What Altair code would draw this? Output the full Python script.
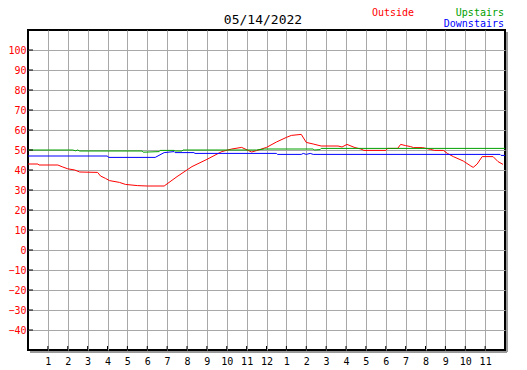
import json
import altair as alt
import pandas as pd

# ---------------- data ----------------
out_h = [0, 0.5, 0.55, 1.5, 1.75, 2.0, 2.35, 2.6, 3.5, 3.65, 3.9, 4.1, 4.6, 4.9, 5.5, 6.0, 6.85,
         7.5, 8.25, 9.0, 9.75, 10.25, 10.75, 11.25, 11.5, 12.0, 12.5, 13.0, 13.25, 13.75, 14.0,
         14.35, 14.75, 15.6, 15.8, 16.05, 16.45, 16.75, 16.9, 18.0, 18.1, 18.6, 18.75, 19.0,
         19.25, 19.4, 19.85, 20.25, 20.45, 20.9, 21.1, 21.4, 21.9, 22.25, 22.4, 22.6, 22.85,
         23.4, 23.65, 23.9]
out_v = [43, 43, 42.5, 42.5, 41.5, 40.6, 40, 39, 38.8, 37, 35.8, 34.7, 33.8, 32.8, 32.2, 32, 32,
         36.7, 41.7, 45.3, 49.2, 50.5, 51.3, 49, 49.7, 51.3, 54, 56.3, 57.3, 57.8, 53.8,
         53, 52, 52, 51.5, 52.8, 51.2, 50.5, 49.8, 49.8, 50.8, 50.8, 52.8, 52.2,
         51.7, 51.2, 51.2, 50.3, 49.8, 49.8, 48.3, 46.7, 44.5, 42.2, 41.3, 43, 46.7,
         46.7, 44.2, 42.8]

up_h = [0, 2.25, 2.4, 2.5, 2.6, 5.75, 5.8, 6.6, 6.65, 7.35, 7.4, 7.75, 7.8, 11.5, 11.9,
        14.35, 14.4, 14.7, 14.75, 24]
up_v = [50, 50, 49.6, 50, 49.5, 49.5, 48.9, 49.2, 49.8, 49.8, 49.5, 49.5, 50, 50, 50.5,
        50.5, 50, 50.2, 50.8, 50.8]

dn_h = [0, 4.0, 4.05, 6.4, 6.85, 7.35, 7.4, 8.35, 8.4, 12.5, 12.55, 13.75, 13.85, 14.0,
        14.2, 14.35, 23.75, 23.8, 24]
dn_v = [47, 47, 46.3, 46.3, 48.7, 49.2, 48.7, 48.7, 48.3, 48.3, 47.8, 47.8, 48.3, 47.8,
        48.3, 47.8, 47.8, 47.3, 47.3]

series_names = ["Outside", "Upstairs", "Downstairs"]
series_colors = ["#ff0000", "#00a000", "#0000ff"]

hour_labels = ["1", "2", "3", "4", "5", "6", "7", "8", "9", "10", "11", "12",
               "1", "2", "3", "4", "5", "6", "7", "8", "9", "10", "11"]
x_ticks = list(range(1, 24))
y_ticks = list(range(-40, 101, 10))
title_text = "05/14/2022"

# ---------------- build ----------------
frames = []
for name, hs, vs in zip(series_names, [out_h, up_h, dn_h], [out_v, up_v, dn_v]):
    frames.append(pd.DataFrame({"hour": hs, "value": vs, "series": name}))
df = pd.concat(frames, ignore_index=True)

W, H = 477, 320
MONO = "DejaVu Sans Mono"

xscale = alt.Scale(domain=[0, 24], nice=False, zero=False)
yscale = alt.Scale(domain=[-50, 110], nice=False, zero=False)
label_expr = f"{json.dumps(hour_labels)}[datum.value-1]"

x_axis = alt.Axis(values=x_ticks, labelExpr=label_expr, ticks=False, tickSize=0,
                  domain=False, grid=True, gridColor="#a8a8a8", gridWidth=1,
                  labelFont=MONO, labelFontSize=10, labelColor="black",
                  labelPadding=6, title=None, labelAngle=0)
y_axis = alt.Axis(values=y_ticks, ticks=False, tickSize=0, domain=False, grid=True,
                  gridColor="#a8a8a8", gridWidth=1, labelFont=MONO, labelFontSize=10,
                  labelColor="#ff0000", labelPadding=2, title=None)

lines = alt.Chart(df).mark_line(strokeWidth=1).encode(
    x=alt.X("hour:Q", scale=xscale, axis=x_axis),
    y=alt.Y("value:Q", scale=yscale, axis=y_axis),
    color=alt.Color("series:N", scale=alt.Scale(domain=series_names, range=series_colors),
                    legend=None),
    order=alt.Order("hour:Q"),
)

ytick_layer = alt.Chart(pd.DataFrame({"value": y_ticks})).mark_rule(color="black", strokeWidth=1).encode(
    y=alt.Y("value:Q", scale=yscale, axis=y_axis),
    x=alt.value(0), x2=alt.value(5),
)
xtick_layer = alt.Chart(pd.DataFrame({"hour": x_ticks})).mark_rule(color="black", strokeWidth=1).encode(
    x=alt.X("hour:Q", scale=xscale, axis=x_axis),
    y=alt.value(H - 4), y2=alt.value(H),
)

one = pd.DataFrame({"a": [0]})
shadow_r = alt.Chart(one).mark_rule(color="#999999", strokeWidth=2).encode(
    x=alt.value(W + 2), y=alt.value(2), y2=alt.value(H + 2))
shadow_b = alt.Chart(one).mark_rule(color="#999999", strokeWidth=2).encode(
    x=alt.value(2), x2=alt.value(W + 2), y=alt.value(H + 2))

title = alt.Chart(one).mark_text(font=MONO, fontSize=13, align="center", color="black").encode(
    text=alt.value(title_text), x=alt.value(235), y=alt.value(-10))
leg_out = alt.Chart(one).mark_text(font=MONO, fontSize=10, align="left", color=series_colors[0]).encode(
    text=alt.value(series_names[0]), x=alt.value(344), y=alt.value(-17.5))
leg_up = alt.Chart(one).mark_text(font=MONO, fontSize=10, align="right", color=series_colors[1]).encode(
    text=alt.value(series_names[1]), x=alt.value(476), y=alt.value(-17.5))
leg_dn = alt.Chart(one).mark_text(font=MONO, fontSize=10, align="right", color=series_colors[2]).encode(
    text=alt.value(series_names[2]), x=alt.value(476), y=alt.value(-6.5))

chart = alt.layer(
    lines, ytick_layer, xtick_layer, shadow_r, shadow_b, title, leg_out, leg_up, leg_dn
).properties(
    width=W, height=H,
    autosize=alt.AutoSizeParams(type="none"),
    padding={"left": 20, "top": 22, "right": 14, "bottom": 16},
    background="white",
).configure_view(
    stroke="black", strokeWidth=2
)

chart.save("out.html", embed_options={"renderer": "svg", "actions": False})
